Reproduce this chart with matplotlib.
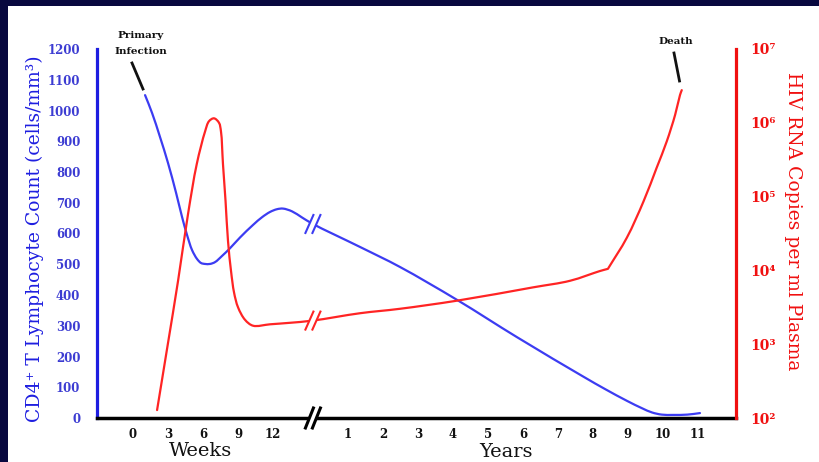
import matplotlib
matplotlib.use('Agg')
import matplotlib.pyplot as plt
import matplotlib.transforms as mtransforms
from matplotlib.patches import Rectangle, Polygon, PathPatch
from matplotlib.path import Path
from matplotlib.lines import Line2D
from matplotlib.ticker import NullLocator
import numpy as np

# ---------------- data ----------------
week_ticks = [0, 3, 6, 9, 12]
year_ticks = [1, 2, 3, 4, 5, 6, 7, 8, 9, 10, 11]

# CD4 count (cells/mm3), early phase in weeks
cd4_weeks = [1.03, 1.63, 2.31, 3.0, 3.69, 4.2, 4.63, 5.06, 5.49, 5.83, 6.17,
             6.6, 7.03, 7.63, 8.31, 9.17, 10.29, 11.06, 11.74, 12.34, 12.86, 13.63, 14.49]
cd4_weeks_vals = [1050, 992, 914, 829, 732, 654, 595, 546, 517, 504, 501,
                  501, 507, 527, 552, 587, 628, 653, 670, 679, 681, 672, 652]
# CD4 count, chronic phase in years
cd4_years = [0.0, 1.35, 2.49, 4.12, 5.83, 7.72, 8.35, 8.97, 9.4, 9.69, 9.97, 10.29, 10.7, 11.06]
cd4_years_vals = [631, 556, 491, 384, 263, 135, 94, 56, 32, 18, 11, 10, 11, 16]

# HIV RNA copies per ml plasma, early phase in weeks
rna_weeks = [2.06, 2.96, 3.86, 4.71, 5.46, 6.17, 6.51, 6.94, 7.37, 7.54, 7.71,
             7.93, 8.14, 8.4, 8.66, 9.0, 9.6, 10.29, 11.74, 13.46]
rna_weeks_vals = [128, 955, 7240, 57500, 275000, 759000, 1050000, 1150000,
                  1000000, 759000, 275000, 87000, 25100, 9800, 5000, 3160, 2140,
                  1780, 1860, 1950]
# HIV RNA, chronic phase in years
rna_years = [0.0, 1.35, 2.49, 4.12, 6.29, 7.35, 8.2, 8.43, 8.97, 9.45, 9.82, 10.11,
             10.35, 10.49, 10.54]
rna_years_vals = [2090, 2630, 3020, 3890, 5890, 7240, 9800, 10500, 27700, 86700,
                  244000, 558000, 1280000, 2380000, 2770000]
rna_kink_year = 8.43  # sharp bend before the terminal rise

# ---------------- styling ----------------
BLUE = '#3c3cf2'
BLUE_AX = '#1e1ee0'
BLUE_TXT = '#3c3cd2'
RED = '#ff2424'
RED_AX = '#f01010'
SERIF = 'DejaVu Serif'
W, H = 820, 462

YEAR0 = 5.14  # axis position of the break


def wpos(w):
    return np.asarray(w, float) / 3.0


def ypos(y):
    return YEAR0 + np.asarray(y, float)


fig = plt.figure(figsize=(8.2, 4.62), dpi=100, facecolor='#08083f')
fig.patches.append(Rectangle((8 / W, 0), (W - 8) / W, (H - 6) / H, transform=fig.transFigure,
                             facecolor='white', edgecolor='none', zorder=-10))


def fx(px):
    return px / W


def fy(py):
    return 1 - py / H


ax = fig.add_axes([fx(97), fy(418), (736 - 97) / W, (418 - 49) / H])
ax.set_facecolor('none')
ax2 = ax.twinx()

ax.set_xlim(-1.03, 17.23)
ax.set_ylim(0, 1200)
ax2.set_yscale('log')
ax2.set_ylim(1e2, 1e7)


def smooth_line(axis, xs, ys, color, lw=1.6, corners=(), alpha=0.5):
    """Centripetal Catmull-Rom curve through the data points, drawn as Bezier path."""
    pts = axis.transData.transform(np.column_stack([xs, ys]))
    n = len(pts)
    verts = [pts[0]]
    codes = [Path.MOVETO]
    eps = 1e-6
    for i in range(n - 1):
        p1 = pts[i]
        p2 = pts[i + 1]
        p0 = pts[i - 1] if (i > 0 and i not in corners) else 2 * p1 - p2
        p3 = pts[i + 2] if (i + 2 < n and (i + 1) not in corners) else 2 * p2 - p1
        d0 = max(np.linalg.norm(p1 - p0) ** alpha, eps)
        d1 = max(np.linalg.norm(p2 - p1) ** alpha, eps)
        d2 = max(np.linalg.norm(p3 - p2) ** alpha, eps)
        m1 = d1 * ((p1 - p0) / d0 - (p2 - p0) / (d0 + d1) + (p2 - p1) / d1)
        m2 = d1 * ((p2 - p1) / d1 - (p3 - p1) / (d1 + d2) + (p3 - p2) / d2)
        c1 = p1 + m1 / 3.0
        c2 = p2 - m2 / 3.0
        verts += [c1, c2, p2]
        codes += [Path.CURVE4] * 3
    patch = PathPatch(Path(verts, codes), facecolor='none', edgecolor=color, lw=lw,
                      transform=mtransforms.IdentityTransform(), zorder=3,
                      capstyle='round', joinstyle='round')
    axis.add_artist(patch)


# curves
cd4_x = np.concatenate([wpos(cd4_weeks), ypos(cd4_years)])
cd4_y = np.concatenate([cd4_weeks_vals, cd4_years_vals])
smooth_line(ax, cd4_x, cd4_y, BLUE)

rna_x = np.concatenate([wpos(rna_weeks), ypos(rna_years)])
rna_y = np.concatenate([rna_weeks_vals, rna_years_vals])
kink_idx = len(rna_weeks) + rna_years.index(rna_kink_year)
smooth_line(ax2, rna_x, rna_y, RED, corners=(kink_idx,))

# spines
for s in ['top', 'right']:
    ax.spines[s].set_visible(False)
ax.spines['left'].set_color(BLUE_AX)
ax.spines['left'].set_linewidth(2.3)
ax.spines['bottom'].set_color('black')
ax.spines['bottom'].set_linewidth(2.5)
for s in ['top', 'left', 'bottom']:
    ax2.spines[s].set_visible(False)
ax2.spines['right'].set_color(RED_AX)
ax2.spines['right'].set_linewidth(2.3)

# ticks
ax.set_yticks(range(0, 1201, 100))
ax.set_yticklabels([str(v) for v in range(0, 1201, 100)])
ax.tick_params(axis='y', length=0, pad=12, labelcolor=BLUE_TXT, labelsize=8.5)
for t in ax.get_yticklabels():
    t.set_fontfamily(SERIF)
    t.set_fontweight('bold')

xt = list(wpos(week_ticks)) + list(ypos(year_ticks))
xl = [str(v) for v in week_ticks] + [str(v) for v in year_ticks]
ax.set_xticks(xt)
ax.set_xticklabels(xl)
ax.tick_params(axis='x', length=0, pad=7, labelcolor='#111111', labelsize=8.5)
for t in ax.get_xticklabels():
    t.set_fontfamily(SERIF)
    t.set_fontweight('bold')

sup = {2: '\u00b2', 3: '\u00b3', 4: '\u2074', 5: '\u2075', 6: '\u2076', 7: '\u2077'}
ax2.set_yticks([10.0 ** k for k in range(2, 8)])
ax2.set_yticklabels(['10' + sup[k] for k in range(2, 8)])
ax2.yaxis.set_minor_locator(NullLocator())
ax2.tick_params(axis='y', which='both', length=0, pad=10, labelcolor=RED_AX, labelsize=10)
for t in ax2.get_yticklabels():
    t.set_fontfamily(SERIF)
    t.set_fontweight('bold')


# break marks
def brk(axis, x, y, color, half_h=9, half_w=4, gap=7, lw=1.5):
    tr = fig.dpi_scale_trans + mtransforms.ScaledTranslation(x, y, axis.transData)
    d = 1 / 100.0
    g = gap / 2.0
    poly = Polygon([((-g - half_w) * d, -half_h * d), ((-g + half_w) * d, half_h * d),
                    ((g + half_w) * d, half_h * d), ((g - half_w) * d, -half_h * d)],
                   closed=True, facecolor='white', edgecolor='none', transform=tr,
                   zorder=6, clip_on=False)
    axis.add_artist(poly)
    for c in (-g, g):
        ln = Line2D([(c - half_w) * d, (c + half_w) * d], [-half_h * d, half_h * d],
                    color=color, lw=lw, transform=tr, zorder=7, clip_on=False)
        axis.add_artist(ln)


brk(ax, YEAR0, 0, 'black', half_h=10, half_w=4, lw=2.2)
brk(ax, YEAR0, cd4_years_vals[0], BLUE, half_h=9, half_w=4)
brk(ax2, YEAR0, rna_years_vals[0], RED, half_h=9, half_w=4)

# axis labels
fig.text(fx(35), fy(239), 'CD4\u207a T Lymphocyte Count (cells/mm\u00b3)', rotation=90,
         ha='center', va='center', color=BLUE_AX, fontsize=13.5, family=SERIF)
fig.text(fx(793), fy(221), 'HIV RNA Copies per ml Plasma', rotation=270,
         ha='center', va='center', color=RED_AX, fontsize=13.5, family=SERIF)
fig.text(fx(201), fy(451), 'Weeks', ha='center', va='center', fontsize=14, family=SERIF,
         color='#111111')
fig.text(fx(506), fy(452), 'Years', ha='center', va='center', fontsize=14, family=SERIF,
         color='#111111')

# annotations
fig.text(fx(141), fy(35), 'Primary', ha='center', va='center', fontsize=7.5,
         family=SERIF, fontweight='bold', color='#111111')
fig.text(fx(141), fy(51), 'Infection', ha='center', va='center', fontsize=7.5,
         family=SERIF, fontweight='bold', color='#111111')
fig.text(fx(676), fy(41), 'Death', ha='center', va='center', fontsize=7.5,
         family=SERIF, fontweight='bold', color='#111111')
fig.add_artist(Line2D([fx(132), fx(143)], [fy(63), fy(89)], color='#111111', lw=2,
                      transform=fig.transFigure))
fig.add_artist(Line2D([fx(674), fx(679.5)], [fy(53), fy(81)], color='#111111', lw=2,
                      transform=fig.transFigure))

fig.savefig('out.png', dpi=100, facecolor=fig.get_facecolor())
